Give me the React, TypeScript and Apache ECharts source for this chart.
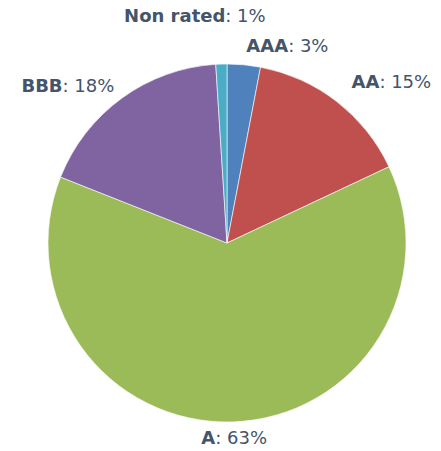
import React, { useEffect, useRef } from "react";
import * as echarts from "echarts";

const categories = ["AAA", "AA", "A", "BBB", "Non rated"];
const values = [3, 15, 63, 18, 1];
const colors = ["#4f81bd", "#c0504d", "#9bbb59", "#8064a2", "#4bacc6"];

export default function App() {
  const ref = useRef<HTMLDivElement>(null);
  useEffect(() => {
    document.body.style.margin = "0";
    const chart = echarts.init(ref.current!, null, { renderer: "svg" });
    chart.setOption({
      animation: false,
      series: [
        {
          type: "pie",
          center: [227, 243],
          radius: 179,
          startAngle: 90,
          clockwise: true,
          avoidLabelOverlap: false,
          itemStyle: { borderColor: "#ffffff", borderWidth: 0.6 },
          label: {
            show: true,
            position: "outside",
            formatter: (p: any) => `{b|${p.name}}{v|: ${p.value}%}`,
            rich: {
              b: { fontFamily: "DejaVu Sans", fontWeight: "bold", fontSize: 18, color: "#44546a" },
              v: { fontFamily: "DejaVu Sans", fontSize: 18, color: "#44546a" },
            },
          },
          labelLine: { show: false, length: 16, length2: 0 },
          labelLayout: (p: any) => {
            if (p.dataIndex === 4) return { align: "center", dx: -21, dy: -33 };
            if (p.dataIndex === 2) return { align: "center", dx: -4 };
            if (p.dataIndex === 1) return { dy: -7 };
            if (p.dataIndex === 0) return { dx: -4, dy: -3 };
            if (p.dataIndex === 3) return { dx: 7 };
            return {};
          },
          data: categories.map((c, i) => ({
            name: c,
            value: values[i],
            itemStyle: { color: colors[i] },
          })),
        },
      ],
    });
    return () => chart.dispose();
  }, []);
  return <div ref={ref} style={{ width: 441, height: 451 }} />;
}
